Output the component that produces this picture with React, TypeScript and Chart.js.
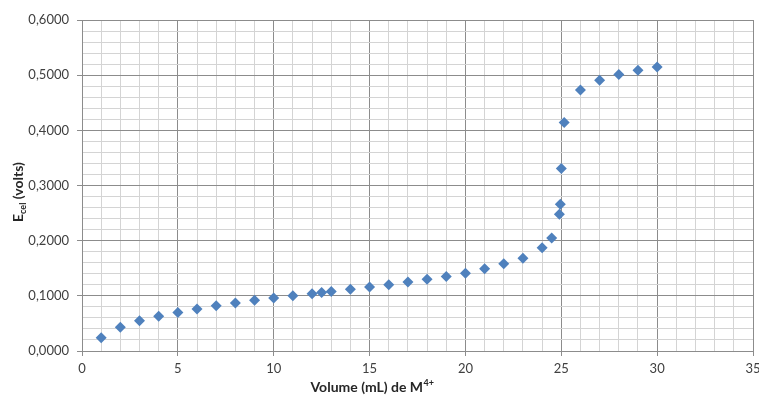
import React, { useEffect, useRef } from "react";
import { Chart, registerables } from "chart.js";

Chart.register(...registerables);

const volumes = [1, 2, 3, 4, 5, 6, 7, 8, 9, 10, 11, 12, 12.5, 13, 14, 15, 16, 17, 18, 19, 20, 21, 22, 23, 24, 24.5, 24.9, 24.95, 25, 25.15, 26, 27, 28, 29, 30];
const potentials = [0.024, 0.043, 0.055, 0.063, 0.070, 0.076, 0.082, 0.087, 0.092, 0.096, 0.100, 0.104, 0.106, 0.108, 0.112, 0.116, 0.120, 0.125, 0.130, 0.135, 0.141, 0.149, 0.158, 0.168, 0.187, 0.205, 0.248, 0.266, 0.331, 0.414, 0.473, 0.491, 0.501, 0.509, 0.515];

const xTitle = "Volume (mL) de M";
const xTitleSup = "4+";
const yTitleMain = "E";
const yTitleSub = "cel";
const yTitleRest = " (volts)";

const FONT = "Lato, 'Liberation Sans', sans-serif";

const isMult = (v: number, step: number) => Math.abs(v / step - Math.round(v / step)) < 1e-6;

const titlePlugin = {
  id: "axisTitles",
  afterDraw(chart: any) {
    const ctx = chart.ctx as CanvasRenderingContext2D;
    ctx.save();
    ctx.fillStyle = "#262626";
    ctx.textBaseline = "alphabetic";
    ctx.textAlign = "left";
    // x title
    ctx.font = `bold 14px ${FONT}`;
    const w1 = ctx.measureText(xTitle).width;
    ctx.font = `bold 9px ${FONT}`;
    const w2 = ctx.measureText(xTitleSup).width;
    const cx = 372;
    const x = cx - (w1 + w2) / 2;
    ctx.font = `bold 14px ${FONT}`;
    ctx.fillText(xTitle, x, 392);
    ctx.font = `bold 9px ${FONT}`;
    ctx.fillText(xTitleSup, x + w1 + 0.5, 386);
    // y title
    ctx.translate(23, 192);
    ctx.rotate(-Math.PI / 2);
    ctx.font = `bold 14px ${FONT}`;
    const a = ctx.measureText(yTitleMain).width;
    const c = ctx.measureText(yTitleRest).width;
    ctx.font = `bold 9px ${FONT}`;
    const b = ctx.measureText(yTitleSub).width;
    const y0 = -(a + b + c) / 2;
    ctx.font = `bold 14px ${FONT}`;
    ctx.fillText(yTitleMain, y0, 0);
    ctx.font = `bold 9px ${FONT}`;
    ctx.fillText(yTitleSub, y0 + a, 3);
    ctx.font = `bold 14px ${FONT}`;
    ctx.fillText(yTitleRest, y0 + a + b, 0);
    ctx.restore();
  },
};

export default function App() {
  const ref = useRef<HTMLCanvasElement | null>(null);
  useEffect(() => {
    if (!ref.current) return;
    const chart = new Chart(ref.current, {
      type: "scatter",
      data: {
        datasets: [
          {
            data: volumes.map((v, i) => ({ x: v, y: potentials[i] })),
            pointStyle: "rectRot",
            pointRadius: 5.5,
            backgroundColor: "#4f81bd",
            borderColor: "#4f81bd",
            borderWidth: 0,
          },
        ],
      },
      plugins: [titlePlugin],
      options: {
        animation: false,
        responsive: false,
        maintainAspectRatio: false,
        layout: { padding: { top: 20, right: 6, left: 0, bottom: 0 } },
        plugins: { legend: { display: false }, tooltip: { enabled: false } },
        scales: {
          x: {
            type: "linear",
            min: 0,
            max: 35,
            afterFit: (s: any) => {
              s.height = 45;
              s.paddingLeft = 0;
              s.paddingRight = 0;
            },
            ticks: {
              stepSize: 1,
              autoSkip: false,
              maxRotation: 0,
              padding: 5,
              color: "#404040",
              font: { family: FONT, size: 13 },
              callback: (v: any) => (isMult(Number(v), 5) ? String(v) : ""),
            },
            grid: {
              color: (c: any) => (isMult(c.tick.value, 5) ? "#8c8c8c" : "#d4d4d4"),
              tickColor: (c: any) => (isMult(c.tick.value, 5) ? "#8c8c8c" : "rgba(0,0,0,0)"),
              tickLength: 5,
              lineWidth: 1,
            },
            border: { color: "#8c8c8c" },
          },
          y: {
            type: "linear",
            min: 0,
            max: 0.6,
            afterFit: (s: any) => {
              s.width = 82;
              s.paddingTop = 0;
              s.paddingBottom = 0;
            },
            ticks: {
              stepSize: 0.02,
              autoSkip: false,
              padding: 8,
              color: "#404040",
              font: { family: FONT, size: 13 },
              callback: (v: any) => (isMult(Number(v), 0.1) ? Number(v).toFixed(4).replace(".", ",") : ""),
            },
            grid: {
              color: (c: any) => (isMult(c.tick.value, 0.1) ? "#8c8c8c" : "#d4d4d4"),
              tickColor: (c: any) => (isMult(c.tick.value, 0.1) ? "#8c8c8c" : "rgba(0,0,0,0)"),
              tickLength: 5,
              lineWidth: 1,
            },
            border: { color: "#8c8c8c" },
          },
        },
      },
    });
    return () => chart.destroy();
  }, []);
  return (
    <div style={{ position: "fixed", left: 0, top: 0, width: 759, height: 396, background: "#fff" }}>
      <canvas ref={ref} width={759} height={396} style={{ width: 759, height: 396 }} />
    </div>
  );
}
